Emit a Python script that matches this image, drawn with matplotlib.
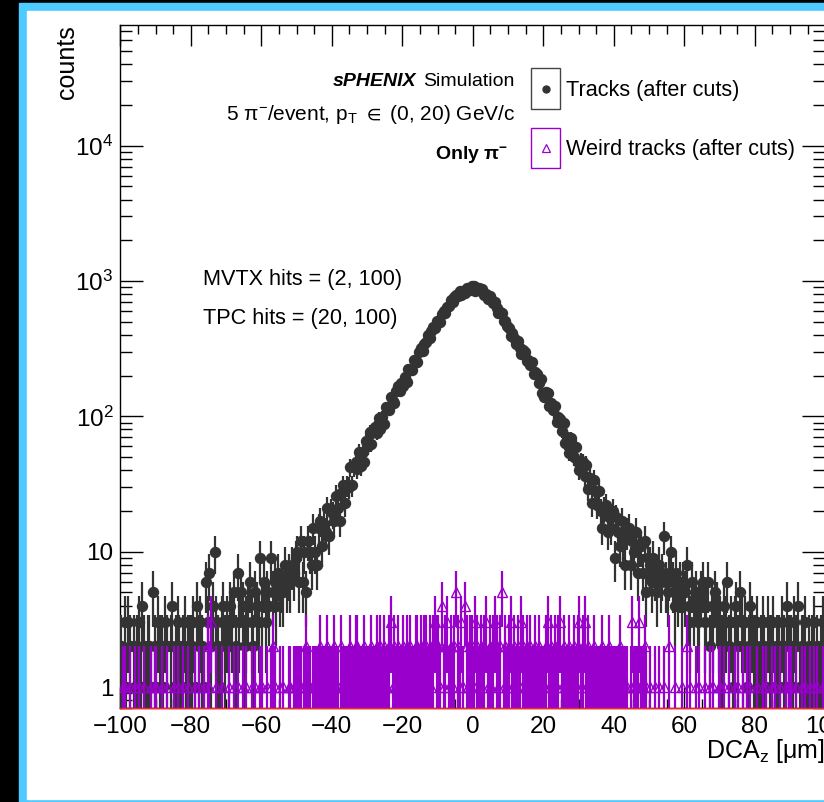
import numpy as np
import matplotlib
matplotlib.use("Agg")
import matplotlib.pyplot as plt
from matplotlib.patches import Rectangle
from matplotlib.lines import Line2D
from matplotlib.ticker import FixedLocator, MultipleLocator, LogLocator, NullFormatter

plt.rcParams['font.family'] = ['Liberation Sans', 'DejaVu Sans']
plt.rcParams['mathtext.fontset'] = 'custom'
plt.rcParams['mathtext.rm'] = 'Liberation Sans'
plt.rcParams['mathtext.it'] = 'Liberation Sans:italic'
plt.rcParams['mathtext.bf'] = 'Liberation Sans:bold'
plt.rcParams['mathtext.default'] = 'regular'

#histogram binning (0.5 um bins from -100 to 100)
x_min, x_max, n_bins = -100, 100, 400

#counts per bin for all tracks, one row = 10 um
tracks = [
    [2, 1, 3, 1, 3, 2, 0, 2, 1, 2, 3, 1, 4, 2, 1, 2, 2, 1, 5, 2],
    [1, 3, 2, 2, 1, 3, 2, 0, 2, 4, 1, 2, 3, 2, 1, 2, 3, 1, 2, 2],
    [2, 3, 1, 4, 2, 3, 2, 1, 6, 3, 7, 2, 4, 10, 3, 2, 1, 3, 4, 2],
    [3, 2, 4, 3, 5, 2, 7, 3, 5, 4, 2, 3, 4, 6, 3, 2, 5, 4, 3, 9],
    [4, 6, 3, 5, 4, 9, 5, 6, 4, 7, 5, 6, 5, 8, 6, 7, 6, 8, 7, 9],
    [10, 6, 12, 6, 10, 5, 12, 10, 8, 15, 10, 8, 15, 17, 11, 16, 14, 21, 13, 20],
    [19, 17, 26, 21, 17, 27, 31, 23, 31, 30, 42, 31, 42, 46, 41, 55, 43, 55, 46, 66],
    [60, 77, 62, 77, 84, 76, 97, 81, 99, 88, 117, 115, 112, 138, 130, 126, 154, 167, 153, 176],
    [167, 194, 180, 223, 222, 222, 262, 253, 252, 297, 320, 306, 345, 352, 400, 377, 426, 454, 449, 511],
    [500, 502, 567, 601, 583, 642, 657, 729, 696, 757, 788, 775, 842, 794, 847, 812, 889, 873, 855, 913],
    [919, 849, 885, 887, 838, 870, 786, 806, 739, 780, 733, 683, 703, 635, 582, 594, 576, 506, 506, 466],
    [449, 391, 416, 379, 344, 360, 320, 290, 308, 301, 257, 263, 241, 251, 205, 213, 206, 177, 189, 149],
    [138, 152, 149, 120, 125, 112, 120, 91, 99, 95, 78, 89, 64, 71, 54, 69, 59, 50, 59, 46],
    [40, 47, 46, 36, 44, 29, 35, 23, 34, 28, 22, 28, 20, 15, 21, 22, 14, 18, 15, 20],
    [9, 18, 14, 11, 17, 12, 8, 14, 15, 8, 12, 10, 14, 7, 11, 11, 7, 12, 5, 9],
    [8, 6, 9, 7, 5, 8, 6, 7, 13, 6, 5, 7, 10, 6, 4, 7, 5, 6, 4, 6],
    [5, 8, 4, 3, 6, 4, 5, 3, 4, 5, 6, 3, 4, 6, 2, 4, 3, 5, 4, 3],
    [3, 2, 4, 3, 6, 2, 3, 1, 3, 4, 2, 5, 3, 2, 3, 1, 2, 4, 3, 2],
    [2, 3, 1, 2, 3, 2, 1, 3, 2, 2, 3, 1, 2, 2, 1, 3, 2, 1, 4, 2],
    [2, 1, 3, 2, 4, 1, 2, 2, 3, 1, 2, 0, 2, 3, 1, 2, 1, 2, 3, 2],
]

#counts per bin for the weird tracks, one digit per bin, one row = 10 um
weird = [
    "01100100101001000101",
    "10010010001010010010",
    "00101001021300100100",
    "01001010010100101001",
    "10010121001010011011",
    "11101211011112111211",
    "12110211112112211121",
    "11211212121123121211",
    "21212112212122121232",
    "21412312125213142122",
    "13212123121232125121",
    "23121213212121121211",
    "12312121231211211212",
    "31231211211112111211",
    "11121111013111311210",
    "10010100100200100010",
    "02010010100100101001",
    "10100100101001010100",
    "01001010010100100101",
    "10010010100101010010",
]

x_ticks = [-100, -80, -60, -40, -20, 0, 20, 40, 60, 80, 100]
x_tick_labels = ["\u2212100", "\u221280", "\u221260", "\u221240", "\u221220", "0", "20", "40", "60", "80", "100"]
y_ticks = [1, 10, 1e2, 1e3, 1e4]
y_tick_labels = ["1", "10", r"$10^{2}$", r"$10^{3}$", r"$10^{4}$"]

W, H = 824, 802
def fx(px):
    return px / W
def fy(py):
    return 1 - py / H

fig = plt.figure(figsize=(W / 100, H / 100), dpi=100)
fig.patch.set_facecolor("black")
fig.add_artist(Rectangle((fx(19), 0), 1 - fx(19), fy(3), transform=fig.transFigure, color="#4dcaff", zorder=-3))
fig.add_artist(Rectangle((fx(27), fy(799)), 1 - fx(27), fy(11) - fy(799), transform=fig.transFigure, color="white", zorder=-2))

ax = fig.add_axes([fx(120.3), fy(708), (825.3 - 120.3) / W, (708 - 25) / H])
ax.set_facecolor("white")

centers = x_min + (np.arange(n_bins) + 0.5) * (x_max - x_min) / n_bins
half_w = 0.5 * (x_max - x_min) / n_bins

def draw_hist(counts, color, marker, ms, mfc, z):
    c = np.asarray(counts, dtype=float)
    m = c > 0
    y = c[m]
    lo = y - np.maximum(y - np.sqrt(y), 0.05)
    hi = np.sqrt(y)
    ax.errorbar(centers[m], y, yerr=[lo, hi], xerr=half_w, fmt=marker, ms=ms, mfc=mfc, mec=color,
                mew=1.0, color=color, ecolor=color, elinewidth=1.6, capsize=0, zorder=z)

track_counts = np.concatenate([np.array(r) for r in tracks])
weird_counts = np.array([int(ch) for r in weird for ch in r])

draw_hist(track_counts, "#333333", "o", 7.2, "#333333", 3)
draw_hist(weird_counts, "#9900cc", "^", 6.5, "none", 4)

ax.set_yscale("log")
ax.set_xlim(x_min, x_max)
ax.set_ylim(0.7, 7.8e4)

ax.xaxis.set_major_locator(FixedLocator(x_ticks))
ax.set_xticklabels(x_tick_labels)
ax.xaxis.set_minor_locator(MultipleLocator(5))
ax.yaxis.set_major_locator(FixedLocator(y_ticks))
ax.set_yticklabels(y_tick_labels)
ax.yaxis.set_minor_locator(LogLocator(base=10, subs=np.arange(2, 10)))
ax.yaxis.set_minor_formatter(NullFormatter())

ax.tick_params(which="both", direction="in", top=True, right=True, labelsize=17.5, width=1, color="black")
ax.tick_params(axis="x", which="major", length=15, pad=6)
ax.tick_params(axis="x", which="minor", length=6.5)
ax.tick_params(axis="y", which="major", length=16.5, pad=5)
ax.tick_params(axis="y", which="minor", length=8.5)
for s in ax.spines.values():
    s.set_linewidth(1)
ax.plot([0, 1], [0, 0], transform=ax.transAxes, color="#ff2020", lw=1, zorder=10, clip_on=False)

#axis titles, ROOT style
fig.text(fx(825), fy(758), r"DCA$_{z}$ [$\mu$m]", ha="right", va="baseline", fontsize=18)
fig.text(fx(67), fy(25), "counts", rotation=90, ha="center", va="top", fontsize=18)

#labels
fig.canvas.draw()
renderer = fig.canvas.get_renderer()
t_sim = fig.text(fx(514), fy(86.5), "Simulation", ha="right", va="baseline", fontsize=14)
bb = t_sim.get_window_extent(renderer)
fig.text(bb.x0 / W - 6 / W, fy(86.5), "sPHENIX", ha="right", va="baseline",
         fontsize=14, fontweight="bold", fontstyle="italic")
fig.text(fx(515), fy(120), r"5 $\pi^{-}$/event, p$_{T}$ $\in$ (0, 20) GeV/c", ha="right", va="baseline", fontsize=15)
fig.text(fx(508), fy(159), r"Only $\pi^{-}$", ha="right", va="baseline", fontsize=14, fontweight="bold")

fig.text(fx(203), fy(285), "MVTX hits = (2, 100)", ha="left", va="baseline", fontsize=15.6)
fig.text(fx(203), fy(324), "TPC hits = (20, 100)", ha="left", va="baseline", fontsize=15.6)

#legend drawn by hand, ROOT style boxes
fig.add_artist(Rectangle((fx(531), fy(109)), (560 - 531) / W, (109 - 68) / H, transform=fig.transFigure,
                         fill=False, ec="#444444", lw=1))
fig.add_artist(Rectangle((fx(531), fy(168)), (560 - 531) / W, (168 - 128) / H, transform=fig.transFigure,
                         fill=False, ec="#9900cc", lw=1))
fig.add_artist(Line2D([fx(545.5)], [fy(88.5)], marker="o", ms=5, color="#333333", transform=fig.transFigure))
fig.add_artist(Line2D([fx(545.5)], [fy(148)], marker="^", ms=6, mfc="none", mec="#9900cc", mew=0.9,
                      transform=fig.transFigure))
fig.text(fx(566.5), fy(96), "Tracks (after cuts)", ha="left", va="baseline", fontsize=15.6)
fig.text(fx(566.5), fy(155), "Weird tracks (after cuts)", ha="left", va="baseline", fontsize=15.6)

fig.savefig("out.png", dpi=100, facecolor=fig.get_facecolor())
